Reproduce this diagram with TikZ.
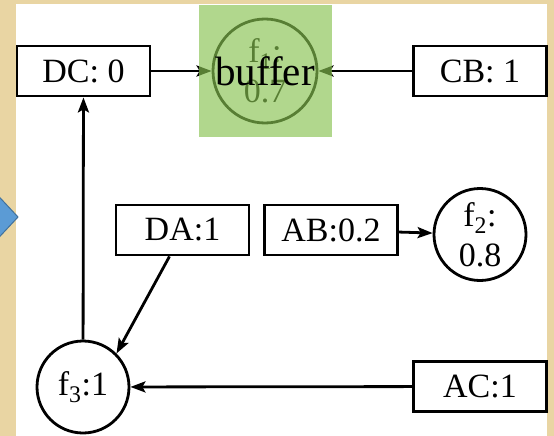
\documentclass[tikz,border=0pt]{standalone}
\usepackage{fontspec}
\setmainfont{Liberation Serif}
\usetikzlibrary{arrows.meta}
\definecolor{beige}{RGB}{233,213,163}
\definecolor{bluefill}{RGB}{91,155,213}
\definecolor{blueline}{RGB}{65,113,156}
\definecolor{greenlayer}{RGB}{136,195,81}
\tikzset{
  box/.style={draw, line width=2.8pt, minimum width=133pt, minimum height=50pt, inner sep=0pt, font=\fontsize{34}{40}\selectfont},
  roundnode/.style={draw, circle, line width=2.8pt, minimum size=92pt, inner sep=0pt, align=center, font=\fontsize{34}{40}\selectfont},
  conn/.style={line width=2.8pt, -{Stealth[length=15pt,width=11pt,inset=3pt]}},
}
\begin{document}
\begin{tikzpicture}[x=1pt,y=-1pt]
\useasboundingbox (0,0) rectangle (554,436);
\fill[beige] (0,0) rectangle (554,436);
\fill[white] (16,4) rectangle (547,436);
\draw[fill=bluefill, draw=blueline, line width=1pt] (-10,187) -- (18,217) -- (-10,247) -- cycle;

\node[box] (DC) at (83.5,71) {DC: 0};
\node[box] (CB) at (480,71) {CB: 1};
\node[box] (DA) at (182.5,230) {DA:1};
\node[box] (AB) at (331,230) {AB:0.2};
\node[box] (AC) at (480,386.5) {AC:1};
\node[roundnode] (f2) at (480,234.5) {f\textsubscript{2}:\\0.8};
\node[roundnode] (f3) at (83,387) {f\textsubscript{3}:1};
\node[roundnode, minimum size=104pt] (f1) at (265,71) {f\textsubscript{1}:\\0.7};

\draw[conn] (DC) -- (f1);
\draw[conn] (CB) -- (f1);
\draw[conn] (AB) -- (f2);
\draw[conn] (AC) -- (f3);
\draw[conn] (f3) -- (DC);
\draw[conn] ([xshift=-13pt]DA.south) -- (f3.45);

\fill[greenlayer, fill opacity=0.65] (199,5) rectangle (332,137);
\node[font=\fontsize{41}{48}\selectfont] (buf) at (265,71) {buffer};
\end{tikzpicture}
\end{document}
